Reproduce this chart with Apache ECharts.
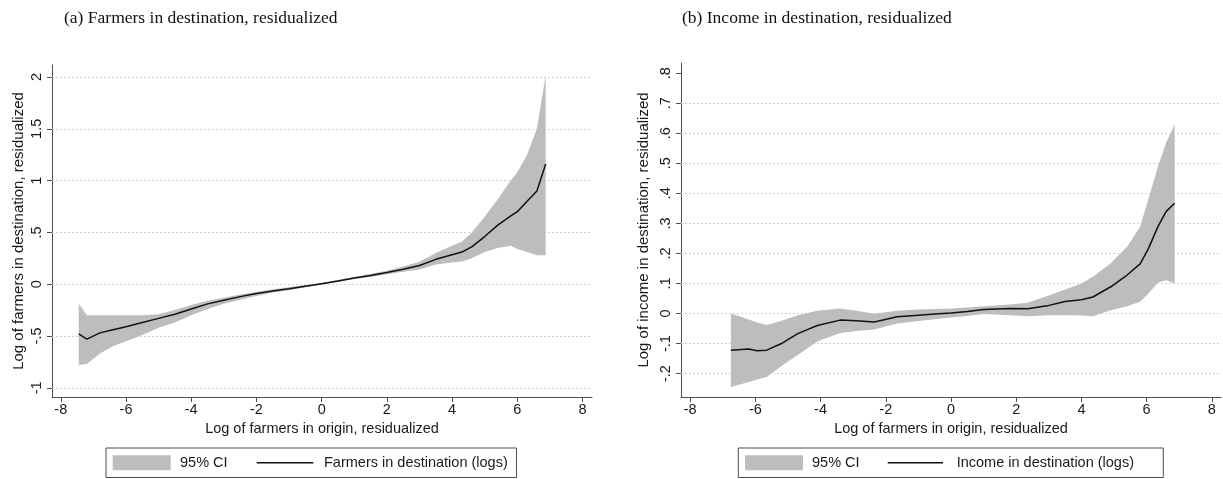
<!DOCTYPE html>
<html>
<head>
<meta charset="utf-8">
<script src="https://cdn.jsdelivr.net/npm/echarts@6/dist/echarts.min.js"></script>
<style>
  html, body { margin: 0; padding: 0; background: #ffffff; }
  #chart { width: 1223px; height: 479px; }
</style>
</head>
<body>
<div id="chart"></div>
<script>
// Panel (a): farmers in destination vs. farmers in origin (both residualized)
const farmX  = [-7.45,-7.2,-6.8,-6.4,-6.0,-5.5,-5.0,-4.5,-4.0,-3.5,-3.0,-2.5,-2.0,-1.5,-1.0,-0.5,0,0.5,1.0,1.5,2.0,2.5,3.0,3.5,4.0,4.3,4.6,5.0,5.4,5.8,6.0,6.3,6.6,6.87];
const farmFit = [-0.48,-0.53,-0.47,-0.44,-0.41,-0.37,-0.33,-0.29,-0.24,-0.19,-0.155,-0.12,-0.09,-0.065,-0.045,-0.02,0.005,0.03,0.06,0.085,0.113,0.145,0.18,0.24,0.285,0.31,0.36,0.46,0.57,0.66,0.70,0.80,0.90,1.16];
const farmHi  = [-0.19,-0.30,-0.30,-0.30,-0.30,-0.30,-0.29,-0.25,-0.20,-0.16,-0.13,-0.10,-0.075,-0.05,-0.03,-0.008,0.012,0.04,0.07,0.10,0.13,0.17,0.216,0.30,0.37,0.41,0.50,0.65,0.82,1.00,1.08,1.25,1.50,2.02];
const farmLo  = [-0.78,-0.77,-0.67,-0.60,-0.55,-0.49,-0.42,-0.37,-0.30,-0.24,-0.19,-0.15,-0.115,-0.08,-0.058,-0.03,-0.003,0.02,0.05,0.07,0.095,0.12,0.142,0.19,0.21,0.22,0.25,0.31,0.35,0.37,0.34,0.31,0.28,0.28];

// Panel (b): income in destination vs. farmers in origin (both residualized)
const incX   = [-6.75,-6.2,-5.95,-5.65,-5.2,-4.7,-4.1,-3.4,-2.9,-2.35,-1.65,-1.0,-0.5,0,0.5,1.0,1.8,2.35,3.0,3.5,4.0,4.35,4.9,5.4,5.8,6.05,6.35,6.6,6.86];
const incFit = [-0.122,-0.118,-0.124,-0.122,-0.10,-0.067,-0.040,-0.022,-0.024,-0.028,-0.011,-0.006,-0.002,0.002,0.007,0.013,0.017,0.016,0.027,0.040,0.046,0.055,0.089,0.128,0.165,0.215,0.29,0.34,0.367];
const incHi  = [0.0,-0.02,-0.03,-0.038,-0.024,-0.006,0.009,0.017,0.009,-0.001,0.009,0.013,0.015,0.017,0.02,0.024,0.030,0.036,0.060,0.080,0.100,0.122,0.167,0.222,0.289,0.38,0.49,0.57,0.628];
const incLo  = [-0.245,-0.228,-0.22,-0.211,-0.175,-0.138,-0.093,-0.065,-0.058,-0.053,-0.033,-0.025,-0.019,-0.013,-0.008,-0.002,-0.006,-0.009,-0.006,-0.006,-0.007,-0.009,0.011,0.024,0.039,0.066,0.103,0.111,0.10];

// Tick values
const xTicks     = [-8,-6,-4,-2,0,2,4,6,8];
const farmYTicks = [-1,-0.5,0,0.5,1,1.5,2];
const incYTicks  = [-0.2,-0.1,0,0.1,0.2,0.3,0.4,0.5,0.6,0.7,0.8];
const incGrid    = [-0.2,-0.1,0,0.1,0.2,0.3,0.4,0.5,0.6,0.7];

// Text
const titles = ['(a) Farmers in destination, residualized', '(b) Income in destination, residualized'];
const xName = 'Log of farmers in origin, residualized';
const yNames = ['Log of farmers in destination, residualized', 'Log of income in destination, residualized'];
const ciName = '95% CI';
const fitNames = ['Farmers in destination (logs)', 'Income in destination (logs)'];

const SANS = 'Liberation Sans, Arial, sans-serif';
const SERIF = 'Liberation Serif, Times New Roman, serif';
const BAND = '#bdbdbd';
const AXIS = '#4d4d4d';
const TXT = '#1a1a1a';
const FS = 14.5;

// Stata-style numbers: drop the leading zero (.5, -.5)
function stataNum(v) {
  const s = String(+(+v).toFixed(3));
  return s.replace(/^(-?)0\./, '$1.');
}

function zip(xs, ys) { return xs.map((x, i) => [x, ys[i]]); }

function bandSeries(idx, xs, lo, hi) {
  return {
    type: 'custom',
    name: ciName,
    xAxisIndex: idx, yAxisIndex: idx,
    z: 2,
    silent: true,
    clip: false,
    data: xs.map((x, i) => [x, lo[i], hi[i]]),
    encode: { x: 0, y: [1, 2] },
    renderItem: function (params, api) {
      if (params.dataIndex !== 0) return;
      const pts = [];
      for (let i = 0; i < xs.length; i++) pts.push(api.coord([xs[i], hi[i]]));
      for (let i = xs.length - 1; i >= 0; i--) pts.push(api.coord([xs[i], lo[i]]));
      return { type: 'polygon', shape: { points: pts }, style: { fill: BAND, stroke: null } };
    }
  };
}

function fitSeries(idx, name, xs, ys, gridVals) {
  return {
    type: 'line',
    name: name,
    xAxisIndex: idx, yAxisIndex: idx,
    z: 3,
    data: zip(xs, ys),
    showSymbol: false,
    symbol: 'none',
    silent: true,
    lineStyle: { color: '#111111', width: 1.5 },
    markLine: {
      silent: true,
      z: 1,
      symbol: ['none', 'none'],
      label: { show: false },
      animation: false,
      lineStyle: { type: [2, 2], color: '#d2d2d2', width: 1 },
      data: gridVals.map(v => ({ yAxis: v }))
    }
  };
}

function xAxis(idx, min, max) {
  return {
    gridIndex: idx, type: 'value', min: min, max: max,
    axisLine: { show: true, onZero: false, lineStyle: { color: AXIS, width: 1 } },
    axisTick: { show: true, length: 5, customValues: xTicks, lineStyle: { color: AXIS } },
    axisLabel: { customValues: xTicks, formatter: stataNum, color: TXT, fontFamily: SANS, fontSize: FS, margin: 5 },
    splitLine: { show: false },
    name: xName, nameLocation: 'middle', nameGap: 24,
    nameTextStyle: { color: TXT, fontFamily: SANS, fontSize: FS }
  };
}

function yAxis(idx, min, max, ticks, name, gap) {
  return {
    gridIndex: idx, type: 'value', min: min, max: max,
    axisLine: { show: true, onZero: false, lineStyle: { color: AXIS, width: 1 } },
    axisTick: { show: true, length: 5, customValues: ticks, lineStyle: { color: AXIS } },
    axisLabel: { customValues: ticks, formatter: stataNum, rotate: 90, color: TXT, fontFamily: SANS, fontSize: FS, margin: 8 },
    splitLine: { show: false },
    name: name, nameLocation: 'middle', nameGap: gap, nameRotate: 90,
    nameTextStyle: { color: TXT, fontFamily: SANS, fontSize: 15 }
  };
}

function legendBox(x, y, w, h, swX, lineX0, lineX1, ciX, fitX, fitName) {
  const cy = y + h / 2;
  const font = FS + 'px ' + SANS;
  return {
    type: 'group',
    children: [
      { type: 'rect', shape: { x: x, y: y, width: w, height: h }, style: { fill: '#ffffff', stroke: AXIS, lineWidth: 1 } },
      { type: 'rect', shape: { x: swX, y: cy - 7.5, width: 58, height: 15 }, style: { fill: BAND } },
      { type: 'text', x: ciX, y: cy, style: { text: ciName, fill: TXT, font: font, verticalAlign: 'middle' } },
      { type: 'line', shape: { x1: lineX0, y1: cy, x2: lineX1, y2: cy }, style: { stroke: '#111111', lineWidth: 1.5 } },
      { type: 'text', x: fitX, y: cy, style: { text: fitName, fill: TXT, font: font, verticalAlign: 'middle' } }
    ]
  };
}

const chart = echarts.init(document.getElementById('chart'), null, { renderer: 'canvas' });
chart.setOption({
  animation: false,
  backgroundColor: '#ffffff',
  title: [
    { text: titles[0], left: 59, top: 4, textStyle: { fontFamily: SERIF, fontSize: 17.5, fontWeight: 'normal', color: '#111' } },
    { text: titles[1], left: 677, top: 4, textStyle: { fontFamily: SERIF, fontSize: 17.5, fontWeight: 'normal', color: '#111' } }
  ],
  grid: [
    { left: 52, right: 631, top: 65, bottom: 82, containLabel: false },
    { left: 681, right: 2, top: 63, bottom: 82, containLabel: false }
  ],
  xAxis: [ xAxis(0, -8.27, 8.29), xAxis(1, -8.28, 8.28) ],
  yAxis: [
    yAxis(0, -1.089, 2.116, farmYTicks, yNames[0], 26),
    yAxis(1, -0.278, 0.834, incYTicks, yNames[1], 30)
  ],
  series: [
    bandSeries(0, farmX, farmLo, farmHi),
    fitSeries(0, fitNames[0], farmX, farmFit, farmYTicks),
    bandSeries(1, incX, incLo, incHi),
    fitSeries(1, fitNames[1], incX, incFit, incGrid)
  ],
  graphic: [
    legendBox(106, 448, 410.5, 29.5, 112.7, 256.7, 313.3, 180, 324, fitNames[0]),
    legendBox(738.3, 448, 425, 29.5, 745, 887.7, 943, 812, 956.7, fitNames[1])
  ]
});
</script>
</body>
</html>
